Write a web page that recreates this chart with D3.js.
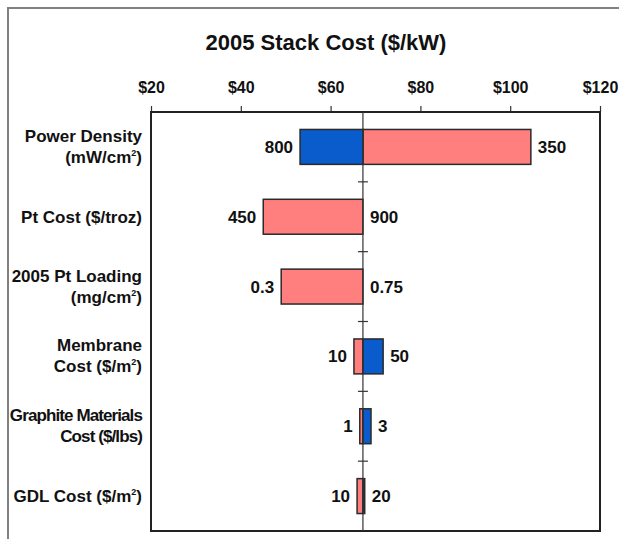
<!DOCTYPE html>
<html>
<head>
<meta charset="utf-8">
<script src="https://cdn.jsdelivr.net/npm/d3@7"></script>
<style>
  body { margin: 0; background: #fff; }
  svg text { font-family: "Liberation Sans", Arial, sans-serif; font-weight: bold; fill: #111; }
</style>
</head>
<body>
<script>
// Data
var categories = ["Power Density", "Pt Cost", "2005 Pt Loading", "Membrane", "Graphite Materials", "GDL Cost"];
// label lines per category, "^2" marks a superscript 2
var labelLines = [
  ["Power Density", "(mW/cm^2)"],
  ["Pt Cost ($/troz)"],
  ["2005 Pt Loading", "(mg/cm^2)"],
  ["Membrane", "Cost ($/m^2)"],
  ["Graphite Materials", "Cost ($/lbs)"],
  ["GDL Cost ($/m^2)"]
];
var baseCost = 67.2;
// stack cost when parameter is at its low value (red) and high value (blue)
var lowParamCost  = [104.6, 45.0, 49.0, 65.2, 66.5, 65.9];
var highParamCost = [53.2, 67.2, 67.2, 71.7, 69.0, 67.6];
var lowParamLabel  = ["350", "450", "0.3", "10", "1", "10"];
var highParamLabel = ["800", "900", "0.75", "50", "3", "20"];
var xTicks = [20, 40, 60, 80, 100, 120];

var width = 619, height = 539;
var margin = {top: 112, right: 19, bottom: 8, left: 151};

var svg = d3.select("body").append("svg")
    .attr("width", width)
    .attr("height", height);

// outer frame (top and left edges visible)
svg.append("path")
    .attr("d", "M8,539V8H619")
    .attr("fill", "none")
    .attr("stroke", "#808080")
    .attr("stroke-width", 2);

var x = d3.scaleLinear()
    .domain([20, 120])
    .range([margin.left, width - margin.right]);

var y = d3.scaleBand()
    .domain(categories)
    .range([margin.top, height - margin.bottom])
    .paddingInner(0.5)
    .paddingOuter(0.25);

// title
svg.append("text")
    .attr("x", 326)
    .attr("y", 50)
    .attr("text-anchor", "middle")
    .style("font-size", "22px")
    .text("2005 Stack Cost ($/kW)");

// top axis
var xAxis = d3.axisTop(x)
    .tickValues(xTicks)
    .tickFormat(function(d) { return "$" + d; })
    .tickSize(6)
    .tickSizeOuter(0)
    .tickPadding(13);

var gx = svg.append("g")
    .attr("transform", "translate(0," + margin.top + ")")
    .call(xAxis);
gx.select(".domain").remove();
gx.selectAll(".tick line").attr("stroke", "#333").attr("stroke-width", 1.2);
gx.selectAll(".tick text")
    .style("font-size", "16px")
    .style("font-family", "'Liberation Sans', Arial, sans-serif")
    .style("font-weight", "bold")
    .attr("fill", "#111");

// plot frame
svg.append("rect")
    .attr("x", x(20))
    .attr("y", margin.top)
    .attr("width", x(120) - x(20))
    .attr("height", height - margin.bottom - margin.top)
    .attr("fill", "none")
    .attr("stroke", "#222")
    .attr("stroke-width", 2);

// bars
function drawSeries(costs, labels, color) {
  categories.forEach(function(c, i) {
    var v = costs[i];
    var x0 = x(Math.min(v, baseCost)), x1 = x(Math.max(v, baseCost));
    if (x1 - x0 > 0.5) {
      svg.append("rect")
          .attr("x", x0)
          .attr("y", y(c))
          .attr("width", x1 - x0)
          .attr("height", y.bandwidth())
          .attr("fill", color)
          .attr("stroke", "#2a2a2a")
          .attr("stroke-width", 1.5);
    }
    var cy = y(c) + y.bandwidth() / 2 + 6;
    if (v < baseCost) {
      svg.append("text").attr("x", x0 - 7).attr("y", cy)
          .attr("text-anchor", "end").style("font-size", "17px").text(labels[i]);
    } else {
      svg.append("text").attr("x", x1 + 7).attr("y", cy)
          .attr("text-anchor", "start").style("font-size", "17px").text(labels[i]);
    }
  });
}
drawSeries(lowParamCost, lowParamLabel, "#ff7f7f");
drawSeries(highParamCost, highParamLabel, "#0a5ccc");

// center (base) line with category separator ticks
svg.append("line")
    .attr("x1", x(baseCost)).attr("x2", x(baseCost))
    .attr("y1", margin.top).attr("y2", height - margin.bottom)
    .attr("stroke", "#333")
    .attr("stroke-width", 1.2);

var step = y.step();
svg.selectAll(".sep")
    .data(categories.slice(1))
    .enter().append("line")
      .attr("class", "sep")
      .attr("x1", x(baseCost) - 5).attr("x2", x(baseCost) + 5)
      .attr("y1", function(d) { return y(d) - step * 0.25; })
      .attr("y2", function(d) { return y(d) - step * 0.25; })
      .attr("stroke", "#333")
      .attr("stroke-width", 1.2);

// category labels
categories.forEach(function(c, i) {
  var lines = labelLines[i];
  var cy = y(c) + y.bandwidth() / 2;
  var offsets = lines.length === 1 ? [6] : [-5, 16];
  lines.forEach(function(line, j) {
    var t = svg.append("text")
        .attr("x", 142)
        .attr("y", cy + offsets[j])
        .attr("text-anchor", "end")
        .style("font-size", "17px");
    if (c === "Graphite Materials") t.style("letter-spacing", "-0.9px");
    var parts = line.split("^2");
    t.append("tspan").text(parts[0]);
    if (parts.length > 1) {
      t.append("tspan").attr("dy", -7).style("font-size", "9px").text("2");
      t.append("tspan").attr("dy", 7).text(parts[1]);
    }
  });
});
</script>
</body>
</html>
